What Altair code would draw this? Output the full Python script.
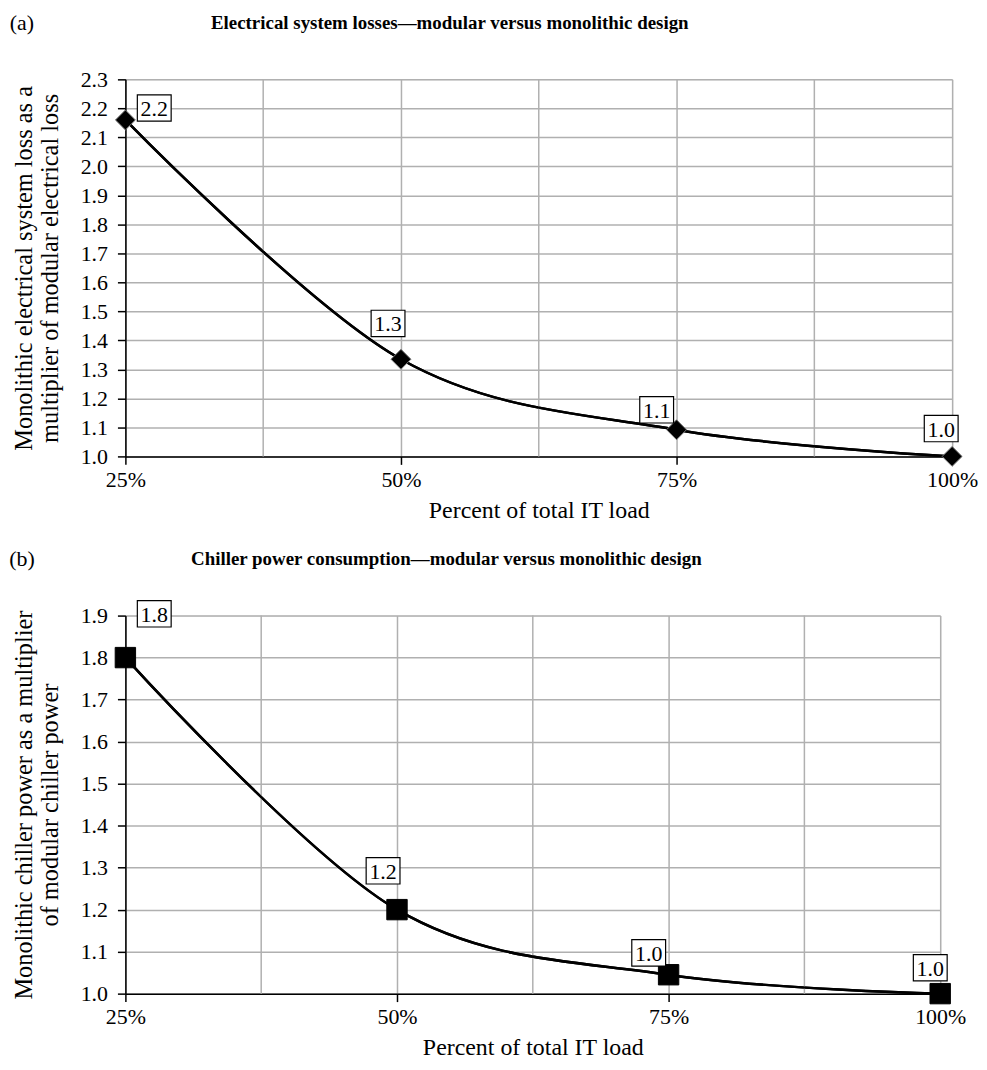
import altair as alt
import pandas as pd

# ---- data ----
load_pct = [25, 50, 75, 100]
x_tick_values = [25, 50, 75, 100]
minor_grid_pct = [37.5, 62.5, 87.5]

elec_values = [2.16, 1.335, 1.092, 1.0]
elec_labels = ["2.2", "1.3", "1.1", "1.0"]
elec_y_ticks = [1.0, 1.1, 1.2, 1.3, 1.4, 1.5, 1.6, 1.7, 1.8, 1.9, 2.0, 2.1, 2.2, 2.3]

chiller_values = [1.8, 1.2, 1.045, 1.0]
chiller_labels = ["1.8", "1.2", "1.0", "1.0"]
chiller_y_ticks = [1.0, 1.1, 1.2, 1.3, 1.4, 1.5, 1.6, 1.7, 1.8, 1.9]

# label box offsets (pixels, relative to the point)
elec_label_dx = [29, -13, -20, -11]
elec_label_dy = [-12, -36, -20, -28]
chiller_label_dx = [29, -14, -20, -10]
chiller_label_dy = [-44, -39, -22, -26]

FONT = "Liberation Serif"
GRID = "#b0b0b0"
BOX = "M-1,-0.78L1,-0.78L1,0.78L-1,0.78Z"


def panel(tag, title, ytitle, values, labels, ymin, ymax, yticks, shape,
          msize, mstroke, width, height, ldx, ldy, title_left):
    df = pd.DataFrame({"x": load_pct, "y": values, "label": labels})
    xs = alt.Scale(domain=[25, 100], nice=False, zero=False)
    ys = alt.Scale(domain=[ymin, ymax], nice=False, zero=False)

    xaxis = alt.Axis(values=x_tick_values, labelExpr="datum.value + '%'",
                     title="Percent of total IT load", grid=True,
                     gridColor=GRID, gridWidth=1.5, domainColor="black",
                     domainWidth=1.5, tickColor="black", tickWidth=1.5,
                     tickSize=8, labelPadding=5, labelFlush=False,
                     labelOverlap=False, titlePadding=8,
                     labelFont=FONT, titleFont=FONT,
                     labelFontSize=22, titleFontSize=24, titleFontWeight="normal",
                     labelColor="black", titleColor="black")
    yaxis = alt.Axis(values=yticks, format=".1f", title=ytitle, grid=True,
                     gridColor=GRID, gridWidth=1.5, domainColor="black",
                     domainWidth=1.5, tickColor="black", tickWidth=1.5,
                     tickSize=8, labelPadding=10, labelFlush=False,
                     labelOverlap=False, titlePadding=18,
                     labelFont=FONT, titleFont=FONT,
                     labelFontSize=22, titleFontSize=24.5, titleFontWeight="normal",
                     titleLineHeight=26, labelColor="black", titleColor="black")

    X = alt.X("x:Q", scale=xs, axis=xaxis)
    Y = alt.Y("y:Q", scale=ys, axis=yaxis)

    base = alt.Chart(df)
    line = base.mark_line(interpolate="cardinal", color="black", strokeWidth=2.5).encode(x=X, y=Y)

    minor = alt.Chart(pd.DataFrame({"x": minor_grid_pct})).mark_rule(
        color=GRID, strokeWidth=1.5
    ).encode(x=X, y=alt.value(0), y2=alt.value(height))

    pts = base.mark_point(shape=shape, size=msize, filled=True, fill="black",
                          stroke=mstroke, strokeWidth=1, opacity=1).encode(x=X, y=Y)

    layers = [line, minor, line, pts]
    for i in range(len(load_pct)):
        sub = base.transform_filter(alt.datum.x == load_pct[i])
        layers.append(sub.mark_point(shape=BOX, size=1156, filled=True, fill="white",
                                     stroke="black", strokeWidth=1.2, opacity=1,
                                     xOffset=ldx[i], yOffset=ldy[i]).encode(x=X, y=Y))
        layers.append(sub.mark_text(font=FONT, fontSize=22, color="black",
                                    align="center", baseline="middle",
                                    xOffset=ldx[i], yOffset=ldy[i] + 1).encode(
            x=X, y=Y, text="label:N"))

    heads = alt.Chart(pd.DataFrame({"t": [tag]})).mark_text(
        font=FONT, fontSize=22, color="black", align="center", baseline="middle"
    ).encode(x=alt.value(-104), y=alt.value(-57), text="t:N")
    ttl = alt.Chart(pd.DataFrame({"t": [title]})).mark_text(
        font=FONT, fontSize=19, fontWeight="bold", color="black",
        align="left", baseline="middle"
    ).encode(x=alt.value(title_left), y=alt.value(-57), text="t:N")
    layers += [heads, ttl]

    return alt.layer(*layers).properties(width=width, height=height)


a = panel("(a)", "Electrical system losses\u2014modular versus monolithic design",
          ["Monolithic electrical system loss as a", "multiplier of modular electrical loss"],
          elec_values, elec_labels, 1.0, 2.3, elec_y_ticks, "diamond", 400, "#777",
          831, 379, elec_label_dx, elec_label_dy, 86)
b = panel("(b)", "Chiller power consumption\u2014modular versus monolithic design",
          ["Monolithic chiller power as a multiplier", "of modular chiller power"],
          chiller_values, chiller_labels, 1.0, 1.9, chiller_y_ticks, "square", 420, "black",
          819, 380, chiller_label_dx, chiller_label_dy, 66)

chart = alt.vconcat(a, b, spacing=24).configure_view(strokeWidth=0).configure(
    background="white", padding=0)

chart.save("out.html", embed_options={"renderer": "svg", "actions": False})
